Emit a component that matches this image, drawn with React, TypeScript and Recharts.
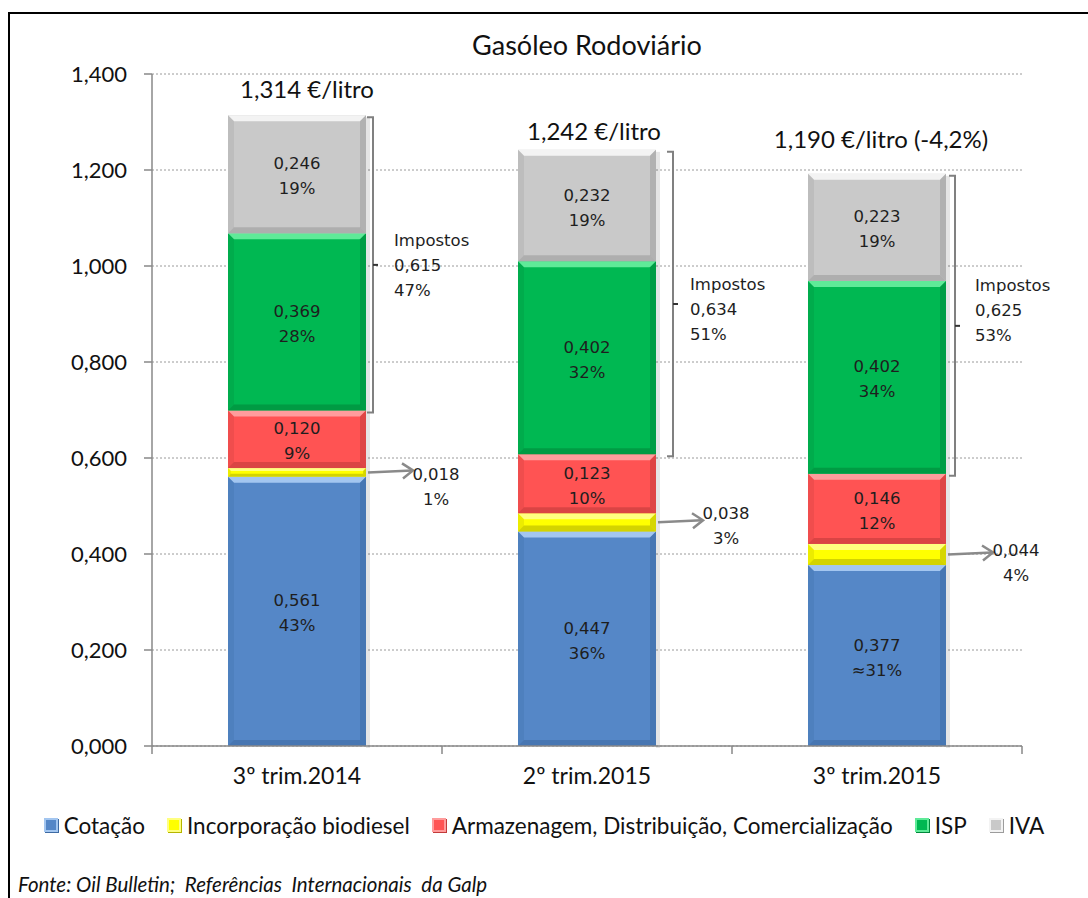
import { BarChart, Bar, XAxis, YAxis, CartesianGrid, Legend, LabelList } from 'recharts';

const categories = ['3º trim.2014', '2º trim.2015', '3º trim.2015'];
const cotacao = [0.561, 0.447, 0.377];
const biodiesel = [0.018, 0.038, 0.044];
const armazenagem = [0.12, 0.123, 0.146];
const isp = [0.369, 0.402, 0.402];
const iva = [0.246, 0.232, 0.223];

const cotacaoPct = ['43%', '36%', '≈31%'];
const biodieselPct = ['1%', '3%', '4%'];
const armazenagemPct = ['9%', '10%', '12%'];
const ispPct = ['28%', '32%', '34%'];
const ivaPct = ['19%', '19%', '19%'];

const totalLabels = ['1,314 €/litro', '1,242 €/litro', '1,190 €/litro (-4,2%)'];
const impostosValues = ['0,615', '0,634', '0,625'];
const impostosPct = ['47%', '51%', '53%'];

const yTicks = [0, 0.2, 0.4, 0.6, 0.8, 1.0, 1.2, 1.4];

const seriesOrder = ['cotacao', 'biodiesel', 'armazenagem', 'isp', 'iva'];

const data = categories.map((name, i) => ({
    name,
    cotacao: cotacao[i],
    biodiesel: biodiesel[i],
    armazenagem: armazenagem[i],
    isp: isp[i],
    iva: iva[i],
}));

// hand placed annotation offsets (Excel labels were dragged around)
const totalOffsets = [{ dx: 10, dy: -25 }, { dx: 7, dy: -18 }, { dx: 4, dy: -34 }];
const bracketOffsets = [{ bx: 7, tx: 28, ty: -25 }, { bx: 17, tx: 34, ty: -20 }, { bx: 9, tx: 29, ty: -41 }];
const bioOffsets = [2, -9, -4];

const palette: Record<string, { fill: string; light: string; dark: string }> = {
    cotacao: { fill: '#5587C7', light: '#A3C6F0', dark: '#3D6AA3' },
    biodiesel: { fill: '#FFFF00', light: '#FFFF80', dark: '#B5B500' },
    armazenagem: { fill: '#FF5353', light: '#FF9C9C', dark: '#C23A3A' },
    isp: { fill: '#00B852', light: '#5FEA98', dark: '#00873B' },
    iva: { fill: '#C9C9C9', light: '#F3F3F3', dark: '#9C9C9C' },
};

const fmt = (v: number) => v.toFixed(3).replace('.', ',');

const labelFont = 'DejaVu Sans, Verdana, sans-serif';
const mainFont = 'Lato, Calibri, sans-serif';

function makeShape(c: { fill: string; light: string; dark: string }) {
    return (props: any) => {
        const { x, y, width: w, height: h } = props;
        if (!w || !h || h <= 0) return <g />;
        const b = Math.min(6, h / 3, w / 3);
        return (
            <g>
                <rect x={x + w} y={y + 2} width={4} height={h} fill="rgba(0,0,0,0.10)" />
                <rect x={x} y={y} width={w} height={h} fill={c.fill} />
                <polygon points={`${x},${y} ${x + w},${y} ${x + w - b},${y + b} ${x + b},${y + b}`} fill={c.light} />
                <polygon points={`${x + w},${y} ${x + w - b},${y + b} ${x + w - b},${y + h - b} ${x + w},${y + h}`} fill={c.dark} opacity={0.55} />
                <polygon points={`${x},${y} ${x + b},${y + b} ${x + b},${y + h - b} ${x},${y + h}`} fill={c.dark} opacity={0.25} />
                <polygon points={`${x},${y + h} ${x + b},${y + h - b} ${x + w - b},${y + h - b} ${x + w},${y + h}`} fill={c.dark} opacity={0.6} />
            </g>
        );
    };
}

function makeInnerLabel(values: number[], pcts: string[]) {
    return (props: any) => {
        const { x, y, width, height, index } = props;
        const cx = x + width / 2;
        const cy = y + height / 2;
        return (
            <text x={cx} y={cy} textAnchor="middle" fontFamily={labelFont} fontSize={16.5} fill="#1e1e1e">
                <tspan x={cx} dy={-5}>{fmt(values[index])}</tspan>
                <tspan x={cx} dy={25}>{pcts[index]}</tspan>
            </text>
        );
    };
}

const BioLabel = (props: any) => {
    const { x, y, width, height, index } = props;
    const right = x + width;
    const mid = y + height / 2;
    const tx = right + 70;
    const ty = mid + bioOffsets[index];
    return (
        <g>
            <line x1={right + 2} y1={mid} x2={right + 46} y2={mid - 2} stroke="#8a8a8a" strokeWidth={2.5} />
            <polyline points={`${right + 36},${mid - 9} ${right + 47},${mid - 2} ${right + 37},${mid + 6}`} fill="none" stroke="#8a8a8a" strokeWidth={2.5} />
            <text x={tx} y={ty} textAnchor="middle" fontFamily={labelFont} fontSize={16.5} fill="#1e1e1e">
                <tspan x={tx} dy={6}>{fmt(biodiesel[index])}</tspan>
                <tspan x={tx} dy={25}>{biodieselPct[index]}</tspan>
            </text>
        </g>
    );
};

const ImpostosLabel = (props: any) => {
    const { x, y, width, height, index } = props;
    const perUnit = height / isp[index];
    const top = y - iva[index] * perUnit + 2;
    const bottom = y + height + 2;
    const o = bracketOffsets[index];
    const bx = x + width + o.bx;
    const mid = (top + bottom) / 2;
    const tx = x + width + o.tx;
    const ty = mid + o.ty;
    return (
        <g>
            <polyline points={`${bx - 6},${top} ${bx},${top} ${bx},${bottom} ${bx - 6},${bottom}`} fill="none" stroke="#808080" strokeWidth={2} />
            <line x1={bx} y1={mid} x2={bx + 5} y2={mid} stroke="#333" strokeWidth={2} />
            <text x={tx} y={ty} fontFamily={labelFont} fontSize={16.5} fill="#1e1e1e">
                <tspan x={tx} dy={6}>Impostos</tspan>
                <tspan x={tx} dy={25}>{impostosValues[index]}</tspan>
                <tspan x={tx} dy={25}>{impostosPct[index]}</tspan>
            </text>
        </g>
    );
};

const TotalLabel = (props: any) => {
    const { x, y, width, index } = props;
    const o = totalOffsets[index];
    return (
        <text x={x + width / 2 + o.dx} y={y + o.dy + 8} textAnchor="middle" fontFamily={mainFont} fontSize={24} fill="#111">
            {totalLabels[index]}
        </text>
    );
};

const CategoryTick = (props: any) => {
    const { x, y, payload, index } = props;
    const half = payload && payload.offset ? payload.offset : 145;
    const axisY = y - 7;
    return (
        <g>
            <text x={x} y={y + 31} textAnchor="middle" fontFamily={mainFont} fontSize={23} fill="#111">{payload.value}</text>
            <line x1={x + half} x2={x + half} y1={axisY} y2={axisY + 8} stroke="#888" strokeWidth={1.5} />
            {index === 0 && <line x1={x - half} x2={x - half} y1={axisY} y2={axisY + 8} stroke="#888" strokeWidth={1.5} />}
        </g>
    );
};

const renderLegend = (props: any) => {
    const payload = [...(props.payload || [])].sort(
        (a: any, b: any) => seriesOrder.indexOf(a.dataKey) - seriesOrder.indexOf(b.dataKey)
    );
    return (
        <div style={{ display: 'flex', justifyContent: 'center', alignItems: 'center', height: 26, fontFamily: mainFont, fontSize: 22.5, color: '#111' }}>
            {payload.map((p: any, i: number) => {
                const c = palette[p.dataKey] || { fill: p.color, light: p.color, dark: p.color };
                return (
                    <span key={i} style={{ display: 'flex', alignItems: 'center', marginRight: i < payload.length - 1 ? 22 : 0 }}>
                        <span style={{ display: 'inline-block', width: 10, height: 10, background: c.fill, border: `2px solid ${c.light}`, boxShadow: `1px 1px 0 ${c.dark}`, marginRight: 6 }} />
                        {p.value}
                    </span>
                );
            })}
        </div>
    );
};

export default function App() {
    return (
        <div style={{ position: 'absolute', left: 0, top: 0, width: 1088, height: 898, background: '#fff', overflow: 'hidden' }}>
            <div style={{ position: 'absolute', left: 8, top: 12, width: 1200, height: 1000, borderTop: '2px solid #000', borderLeft: '2px solid #000' }} />
            <div style={{ position: 'absolute', left: 0, top: 28, width: 1174, textAlign: 'center', fontFamily: mainFont, fontSize: 27, color: '#111' }}>
                Gasóleo Rodoviário
            </div>
            <div style={{ position: 'absolute', left: 18, top: 872, fontFamily: mainFont, fontStyle: 'italic', fontSize: 20.5, color: '#111', whiteSpace: 'pre' }}>
                {'Fonte: Oil Bulletin;  Referências  Internacionais  da Galp'}
            </div>
            <div style={{ position: 'absolute', left: 0, top: 0 }}>
                <BarChart width={1088} height={898} data={data} margin={{ top: 74, right: 66, left: 0, bottom: 86 }} barSize={138}>
                    <CartesianGrid vertical={false} stroke="#9a9a9a" strokeDasharray="2 2" />
                    <XAxis dataKey="name" height={40} tickLine={false} tickSize={7} tickMargin={0} tick={<CategoryTick />} axisLine={{ stroke: '#888', strokeWidth: 1.5 }} interval={0} />
                    <YAxis width={152} domain={[0, 1.4]} ticks={yTicks} tickFormatter={fmt} tickSize={8} tickMargin={17} axisLine={{ stroke: '#888', strokeWidth: 1.5 }} tickLine={{ stroke: '#888', strokeWidth: 1.5 }} tick={{ fontFamily: mainFont, fontSize: 22, fill: '#111' }} />
                    <Legend content={renderLegend} verticalAlign="bottom" wrapperStyle={{ top: 812, bottom: 'auto', left: 0, width: 1088 }} />
                    <Bar dataKey="cotacao" name="Cotação" stackId="a" fill={palette.cotacao.fill} shape={makeShape(palette.cotacao)} isAnimationActive={false}>
                        <LabelList content={makeInnerLabel(cotacao, cotacaoPct)} />
                    </Bar>
                    <Bar dataKey="biodiesel" name="Incorporação biodiesel" stackId="a" fill={palette.biodiesel.fill} shape={makeShape(palette.biodiesel)} isAnimationActive={false}>
                        <LabelList content={BioLabel} />
                    </Bar>
                    <Bar dataKey="armazenagem" name="Armazenagem, Distribuição, Comercialização" stackId="a" fill={palette.armazenagem.fill} shape={makeShape(palette.armazenagem)} isAnimationActive={false}>
                        <LabelList content={makeInnerLabel(armazenagem, armazenagemPct)} />
                    </Bar>
                    <Bar dataKey="isp" name="ISP" stackId="a" fill={palette.isp.fill} shape={makeShape(palette.isp)} isAnimationActive={false}>
                        <LabelList content={makeInnerLabel(isp, ispPct)} />
                        <LabelList content={ImpostosLabel} />
                    </Bar>
                    <Bar dataKey="iva" name="IVA" stackId="a" fill={palette.iva.fill} shape={makeShape(palette.iva)} isAnimationActive={false}>
                        <LabelList content={makeInnerLabel(iva, ivaPct)} />
                        <LabelList content={TotalLabel} />
                    </Bar>
                </BarChart>
            </div>
        </div>
    );
}
